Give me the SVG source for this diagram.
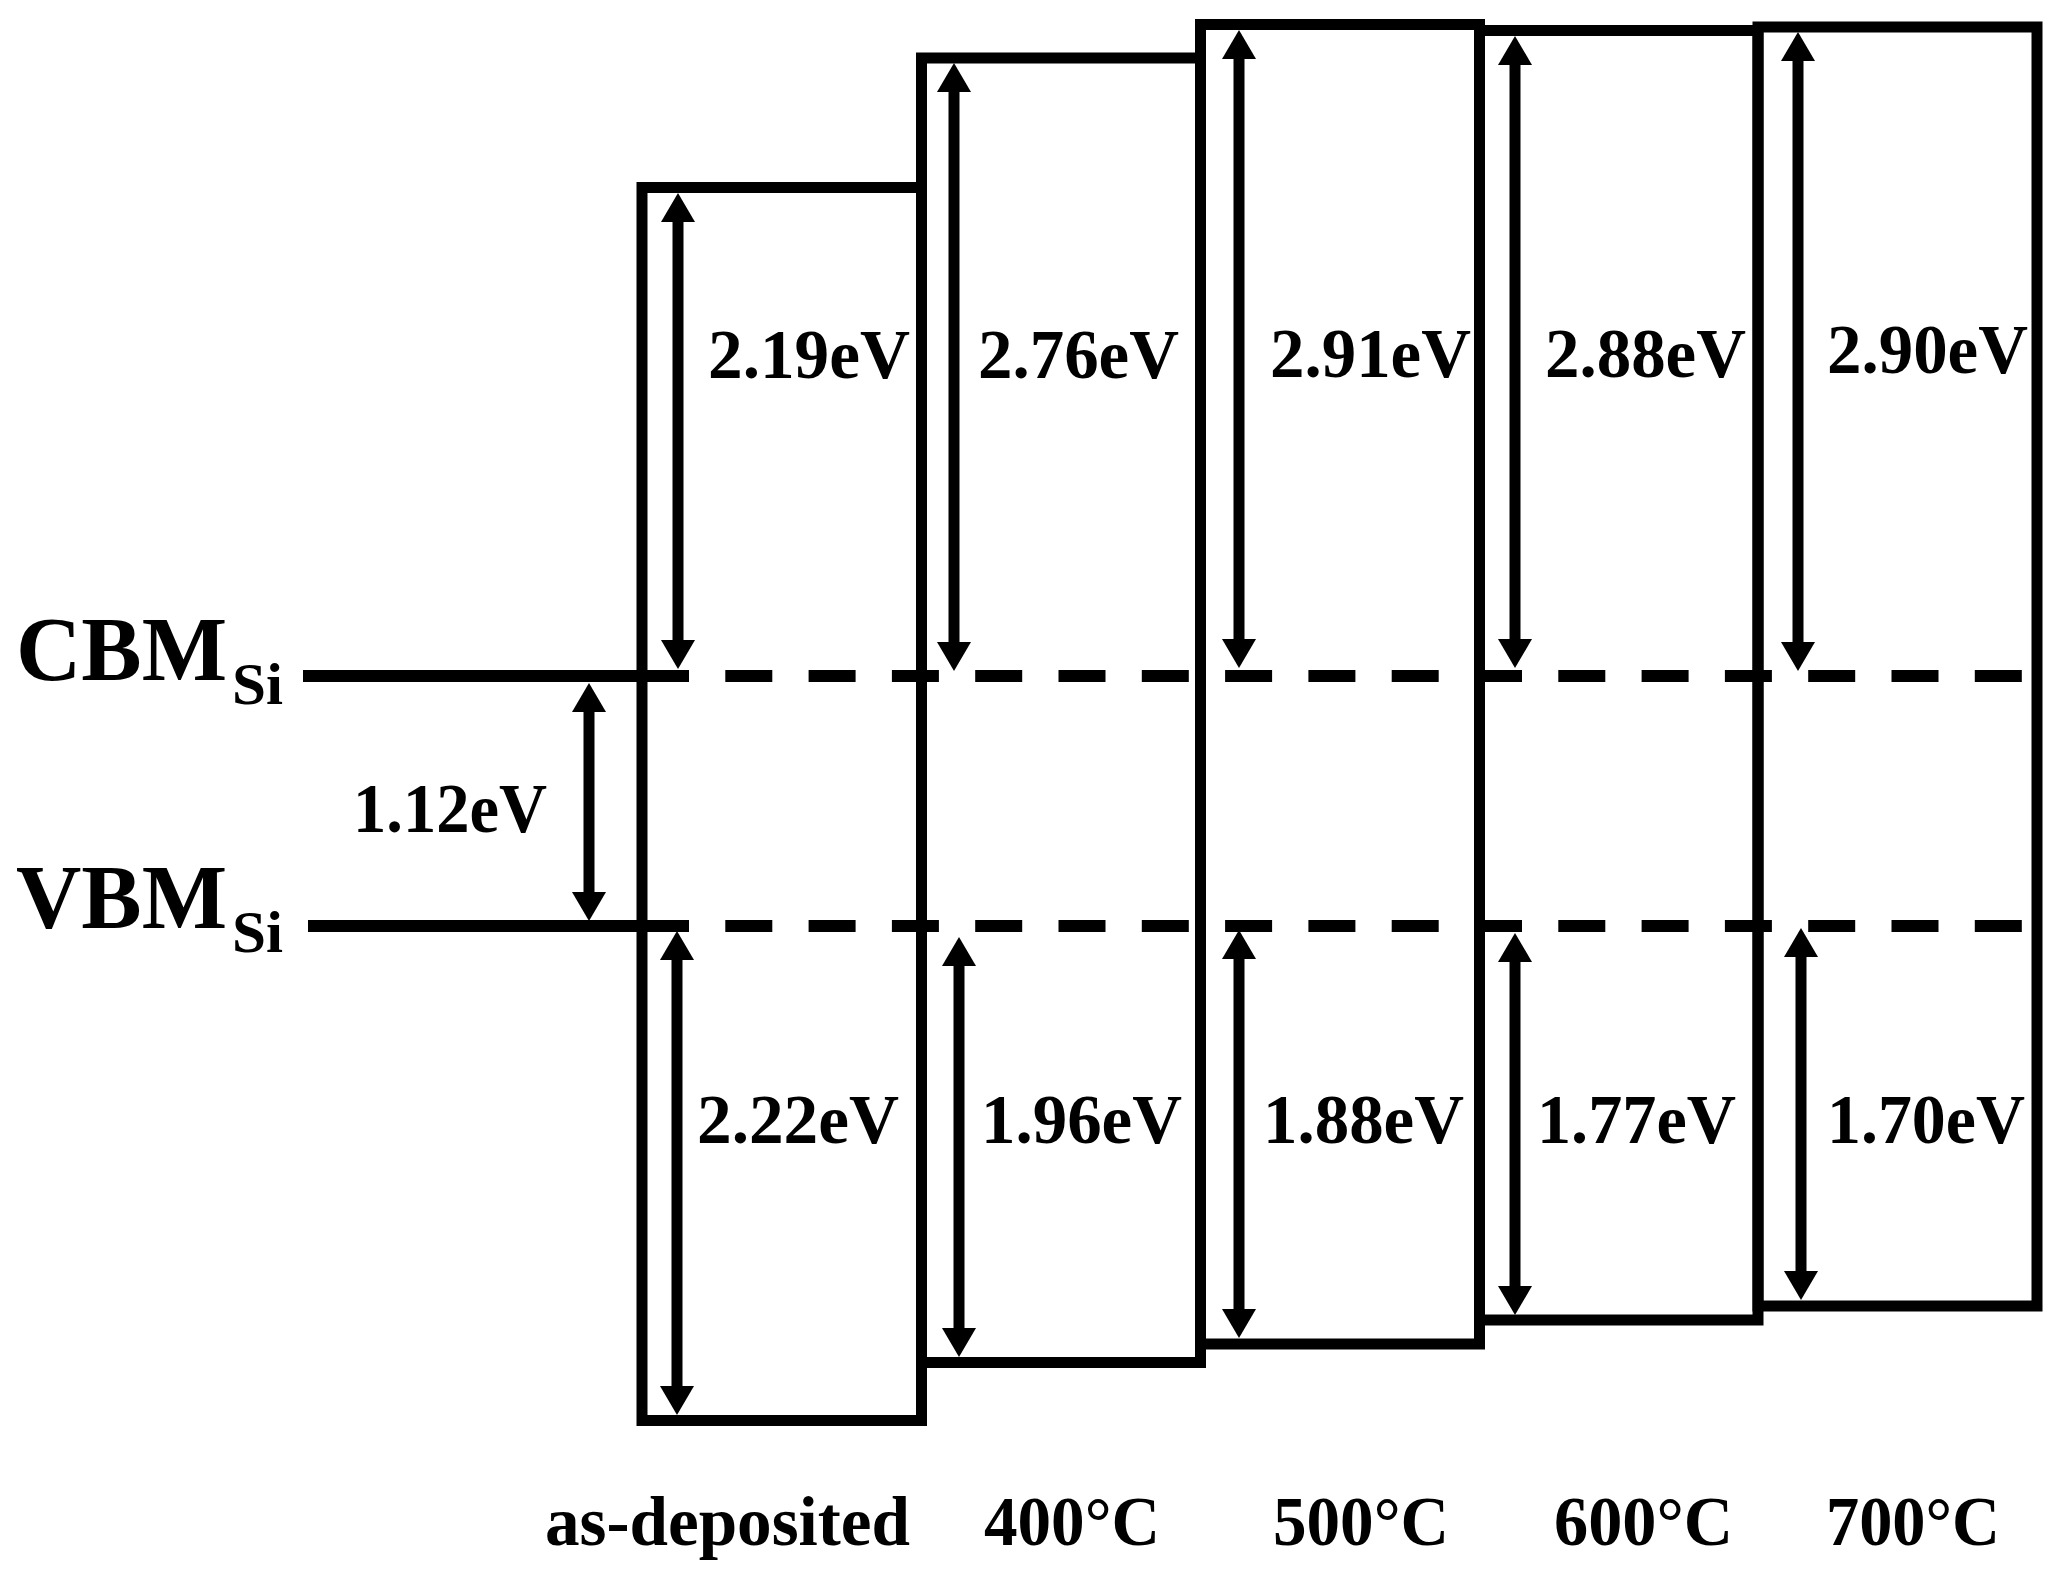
<svg xmlns="http://www.w3.org/2000/svg" width="2068" height="1574" viewBox="0 0 2068 1574">
<style>
  text { font-family: "Liberation Serif", "Times New Roman", serif; font-weight: bold; fill: #000; }
  .lbl { font-size: 70px; }
  .big { font-size: 92px; }
  .sub { font-size: 60px; }
  .box { fill: none; stroke: #000; stroke-width: 11; }
  .lvl { stroke: #000; stroke-width: 12; fill: none; }
  .dash { stroke: #000; stroke-width: 12; fill: none; stroke-dasharray: 47 36.3; }
  .arr { stroke: #000; stroke-width: 11; fill: none; marker-start: url(#ah); marker-end: url(#ah); }
</style>
<defs>
  <marker id="ah" markerUnits="userSpaceOnUse" markerWidth="30" markerHeight="34" refX="1" refY="17" orient="auto-start-reverse" overflow="visible">
    <path d="M0,0 L29,17 L0,34 Z" fill="#000"/>
  </marker>
</defs>
<rect width="2068" height="1574" fill="#fff"/>

<g id="si-levels">
  <line class="lvl" x1="303" y1="676" x2="642" y2="676"/>
  <line class="lvl" x1="308" y1="926" x2="642" y2="926"/>
  <line class="dash" x1="642" y1="676" x2="2024" y2="676"/>
  <line class="dash" x1="642" y1="926" x2="2024" y2="926"/>
  <text class="big" x="16" y="680" textLength="211" lengthAdjust="spacingAndGlyphs">CBM</text>
  <text class="sub" x="232" y="704" textLength="51" lengthAdjust="spacingAndGlyphs">Si</text>
  <text class="big" x="16" y="928" textLength="211" lengthAdjust="spacingAndGlyphs">VBM</text>
  <text class="sub" x="232" y="952" textLength="51" lengthAdjust="spacingAndGlyphs">Si</text>
  <text class="lbl" x="353" y="832" textLength="194" lengthAdjust="spacingAndGlyphs">1.12eV</text>
</g>

<g id="box-asdep">
  <rect class="box" x="642" y="187.5" width="279.5" height="1233"/>
  <text class="lbl" x="708" y="378" textLength="202" lengthAdjust="spacingAndGlyphs">2.19eV</text>
  <text class="lbl" x="697" y="1143" textLength="202" lengthAdjust="spacingAndGlyphs">2.22eV</text>
  <text class="lbl" x="545" y="1545" textLength="365" lengthAdjust="spacingAndGlyphs">as-deposited</text>
</g>
<g id="box-400">
  <rect class="box" x="921.5" y="58" width="279" height="1304.5"/>
  <text class="lbl" x="978" y="378" textLength="201" lengthAdjust="spacingAndGlyphs">2.76eV</text>
  <text class="lbl" x="981" y="1143" textLength="201" lengthAdjust="spacingAndGlyphs">1.96eV</text>
  <text class="lbl" x="984" y="1545" textLength="176" lengthAdjust="spacingAndGlyphs">400°C</text>
</g>
<g id="box-500">
  <rect class="box" x="1200.5" y="24.5" width="279" height="1319.5"/>
  <text class="lbl" x="1270" y="377" textLength="201" lengthAdjust="spacingAndGlyphs">2.91eV</text>
  <text class="lbl" x="1263" y="1143" textLength="201" lengthAdjust="spacingAndGlyphs">1.88eV</text>
  <text class="lbl" x="1273" y="1545" textLength="176" lengthAdjust="spacingAndGlyphs">500°C</text>
</g>
<g id="box-600">
  <rect class="box" x="1479.5" y="30.5" width="278.5" height="1289.5"/>
  <text class="lbl" x="1545" y="377" textLength="201" lengthAdjust="spacingAndGlyphs">2.88eV</text>
  <text class="lbl" x="1537" y="1143" textLength="199" lengthAdjust="spacingAndGlyphs">1.77eV</text>
  <text class="lbl" x="1554" y="1545" textLength="179" lengthAdjust="spacingAndGlyphs">600°C</text>
</g>
<g id="box-700">
  <rect class="box" x="1758" y="27" width="279" height="1279"/>
  <text class="lbl" x="1827" y="373" textLength="201" lengthAdjust="spacingAndGlyphs">2.90eV</text>
  <text class="lbl" x="1827" y="1143" textLength="198" lengthAdjust="spacingAndGlyphs">1.70eV</text>
  <text class="lbl" x="1826" y="1545" textLength="174" lengthAdjust="spacingAndGlyphs">700°C</text>
</g>

<g id="connectors">
  <line class="arr" x1="589" y1="711" x2="589" y2="893"/>
  <line class="arr" x1="678" y1="221" x2="678" y2="641"/>
  <line class="arr" x1="954" y1="91" x2="954" y2="643"/>
  <line class="arr" x1="1239" y1="58" x2="1239" y2="640"/>
  <line class="arr" x1="1515" y1="64" x2="1515" y2="640"/>
  <line class="arr" x1="1798" y1="60" x2="1798" y2="643"/>
  <line class="arr" x1="677" y1="959" x2="677" y2="1387"/>
  <line class="arr" x1="959" y1="965" x2="959" y2="1329"/>
  <line class="arr" x1="1239" y1="958" x2="1239" y2="1310"/>
  <line class="arr" x1="1515" y1="961" x2="1515" y2="1287"/>
  <line class="arr" x1="1801" y1="956" x2="1801" y2="1272"/>
</g>
</svg>
